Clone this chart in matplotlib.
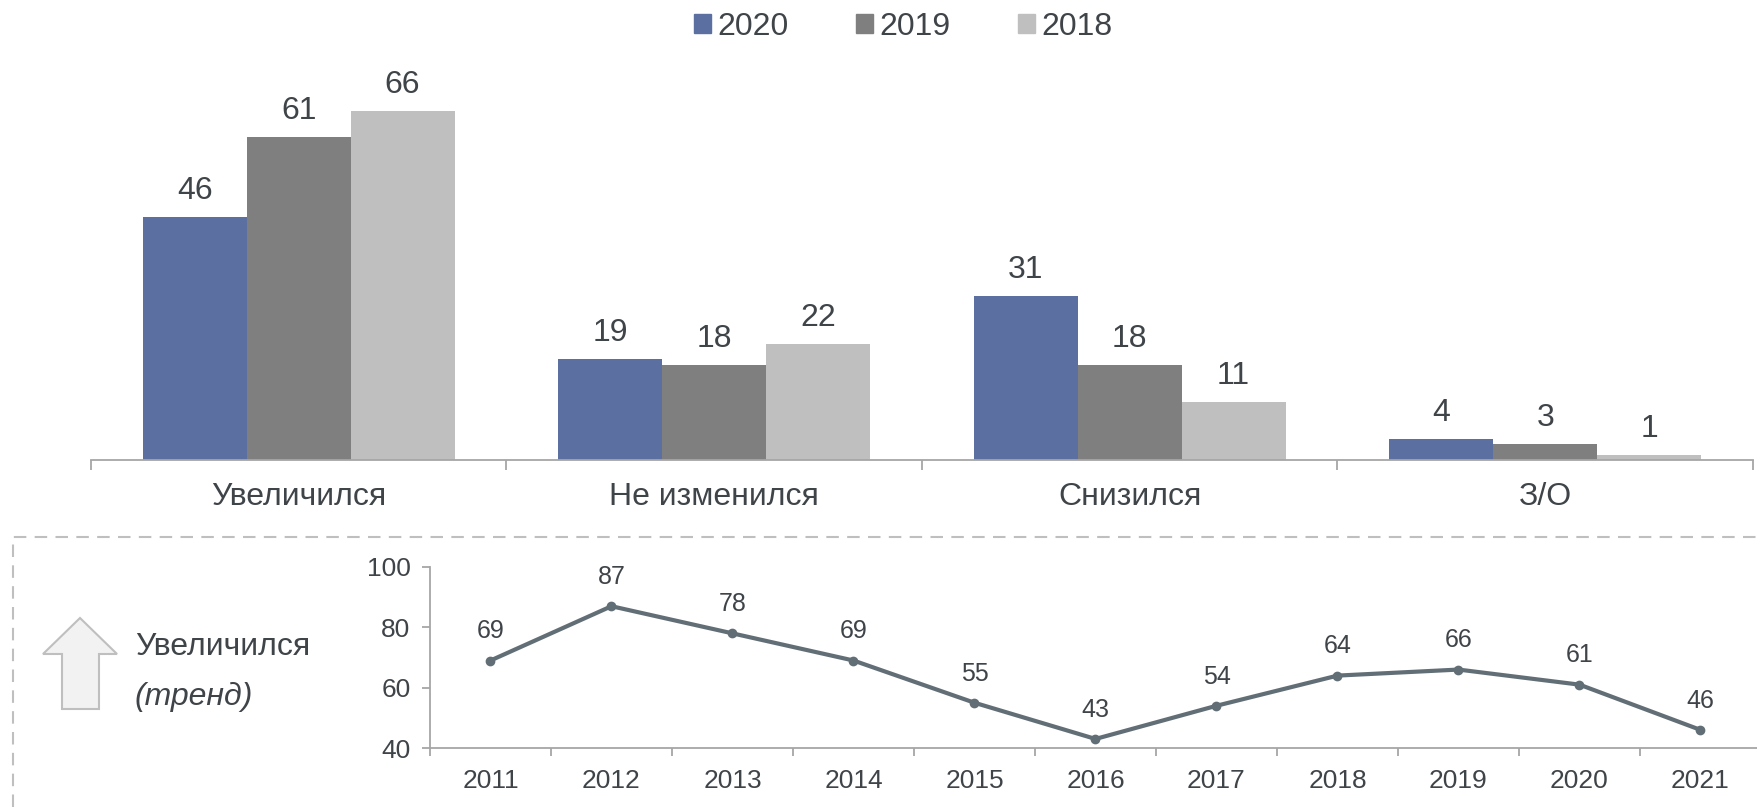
import matplotlib.pyplot as plt
import matplotlib.patches as mpatches
from matplotlib.lines import Line2D
import numpy as np

# --- Daten ---
categories = ['Увеличился', 'Не изменился', 'Снизился', 'З/О']
series_names = ['2020', '2019', '2018']
values_2020 = [46, 19, 31, 4]
values_2019 = [61, 18, 18, 3]
values_2018 = [66, 22, 11, 1]

trend_years = ['2011', '2012', '2013', '2014', '2015', '2016',
               '2017', '2018', '2019', '2020', '2021']
trend_values = [69, 87, 78, 69, 55, 43, 54, 64, 66, 61, 46]
# -------------

W, H = 1758, 807
text_color = '#3f4449'
axis_color = '#a6a6a6'
bar_colors = ['#5b70a0', '#7f7f7f', '#bfbfbf']
line_color = '#626e76'

plt.rcParams['font.family'] = ['Liberation Sans', 'DejaVu Sans']

fig = plt.figure(figsize=(W / 100, H / 100), dpi=100)


def fx(px):
    return px / W


def fy(py):
    return 1 - py / H


# --- oberes Balkendiagramm ---
ax = fig.add_axes([fx(91), fy(460), fx(1753 - 91), 75 * 5.29 / H])
x = np.arange(len(categories))
bw = 0.25
for i, (name, vals) in enumerate(zip(series_names, [values_2020, values_2019, values_2018])):
    bars = ax.bar(x + (i - 1) * bw, vals, width=bw, color=bar_colors[i], label=name)
    for rect, v in zip(bars, vals):
        ax.annotate(str(v), (rect.get_x() + rect.get_width() / 2, v),
                    xytext=(0, 13), textcoords='offset points',
                    ha='center', va='baseline', fontsize=23, color=text_color)

ax.set_xlim(-0.5, 3.5)
ax.set_ylim(0, 75)
ax.set_yticks([])
for s in ['top', 'right', 'left']:
    ax.spines[s].set_visible(False)
ax.spines['bottom'].set_color(axis_color)
ax.spines['bottom'].set_linewidth(1.3)
ax.set_xticks(x)
ax.set_xticklabels(categories, fontsize=23, color=text_color)
ax.tick_params(axis='x', which='major', length=0, pad=16)
ax.set_xticks([-0.5, 0.5, 1.5, 2.5, 3.5], minor=True)
ax.tick_params(axis='x', which='minor', length=7, width=1.3, color=axis_color, direction='out')

# Legende
handles = [mpatches.Patch(color=c, label=n) for c, n in zip(bar_colors, series_names)]
leg = fig.legend(handles=handles, loc='center', bbox_to_anchor=(fx(903), fy(27)),
                 ncol=3, frameon=False, fontsize=23, handlelength=0.54, handleheight=0.54,
                 handletextpad=0.2, columnspacing=2.1, borderpad=0)
for t in leg.get_texts():
    t.set_color(text_color)

# --- gestrichelter Rahmen ---
fig.add_artist(Line2D([fx(13), fx(13), fx(W)], [fy(H), fy(537), fy(537)],
                      transform=fig.transFigure, color='#bfbfbf', lw=1.5,
                      linestyle=(0, (6, 4))))

# --- Pfeil ---
arrow_px = [(62, 709), (99, 709), (99, 654), (117, 654), (80, 618), (43, 654), (62, 654)]
fig.add_artist(mpatches.Polygon([(fx(a), fy(b)) for a, b in arrow_px], closed=True,
                                transform=fig.transFigure, facecolor='#f2f2f2',
                                edgecolor='#bfbfbf', lw=1.5))
fig.text(fx(135), fy(647), 'Увеличился', fontsize=23, color=text_color, ha='left', va='center')
fig.text(fx(135), fy(697), '(тренд)', fontsize=23, color=text_color, ha='left', va='center',
         style='italic')

# --- Trendlinie ---
ax2 = fig.add_axes([fx(430), fy(748), fx(11 * 121), 181 / H])
xt = np.arange(len(trend_years))
ax2.plot(xt, trend_values, color=line_color, lw=3, marker='o', markersize=6)
for xi, v in zip(xt, trend_values):
    ax2.annotate(str(v), (xi, v), xytext=(0, 16), textcoords='offset points',
                 ha='center', va='baseline', fontsize=18, color=text_color)
ax2.set_xlim(-0.5, len(trend_years) - 0.5)
ax2.set_ylim(40, 100)
ax2.set_yticks([40, 60, 80, 100])
ax2.tick_params(axis='y', length=6, width=1.3, color=axis_color, labelsize=19,
                labelcolor=text_color, pad=8)
ax2.set_xticks(xt)
ax2.set_xticklabels(trend_years)
ax2.tick_params(axis='x', which='major', length=0, labelsize=19, labelcolor=text_color, pad=15)
ax2.set_xticks(np.arange(-0.5, len(trend_years), 1), minor=True)
ax2.tick_params(axis='x', which='minor', length=6, width=1.3, color=axis_color, direction='out')
for s in ['top', 'right']:
    ax2.spines[s].set_visible(False)
for s in ['left', 'bottom']:
    ax2.spines[s].set_color(axis_color)
    ax2.spines[s].set_linewidth(1.3)
ax2.patch.set_alpha(0)

fig.savefig('out.png', dpi=100)
